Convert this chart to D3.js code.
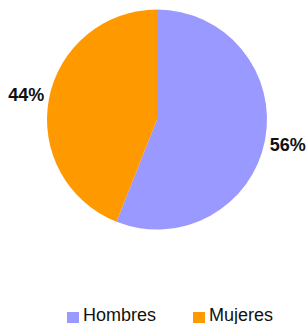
<!DOCTYPE html>
<html>
<head>
<meta charset="utf-8">
<script src="https://cdn.jsdelivr.net/npm/d3@7"></script>
<style>
  body { margin: 0; background: #fff; }
  svg { display: block; font-family: "Liberation Sans", Arial, sans-serif; }
</style>
</head>
<body>
<svg width="308" height="324"></svg>
<script>
var categories = ["Hombres", "Mujeres"];
var values = [56, 44];
var colors = ["#9999ff", "#ff9900"];

var svg = d3.select("svg");
var cx = 157, cy = 119.5, radius = 110;

var g = svg.append("g").attr("transform", "translate(" + cx + "," + cy + ")");

var pie = d3.pie().sort(null).value(function(d) { return d; });
var arcs = pie(values);

var arc = d3.arc().innerRadius(0).outerRadius(radius);
var labelArc = d3.arc().innerRadius(133).outerRadius(133);

g.selectAll("path")
    .data(arcs)
    .enter().append("path")
    .attr("d", arc)
    .attr("fill", function(d, i) { return colors[i]; });

g.selectAll("text.lbl")
    .data(arcs)
    .enter().append("text")
    .attr("class", "lbl")
    .attr("x", function(d) { return labelArc.centroid(d)[0]; })
    .attr("y", function(d) { return labelArc.centroid(d)[1]; })
    .attr("dy", "0.35em")
    .attr("text-anchor", "middle")
    .attr("font-size", 18)
    .attr("font-weight", "bold")
    .attr("fill", "#111")
    .text(function(d) { return d.data + "%"; });

// leyenda
var legendX = [67, 193];
var legend = svg.selectAll("g.leg")
    .data(categories)
    .enter().append("g")
    .attr("class", "leg")
    .attr("transform", function(d, i) { return "translate(" + legendX[i] + ",311)"; });

legend.append("rect")
    .attr("width", 12)
    .attr("height", 11)
    .attr("y", 1)
    .attr("fill", function(d, i) { return colors[i]; });

legend.append("text")
    .attr("x", 16)
    .attr("y", 10)
    .attr("font-size", 18)
    .attr("fill", "#111")
    .text(function(d) { return d; });
</script>
</body>
</html>
